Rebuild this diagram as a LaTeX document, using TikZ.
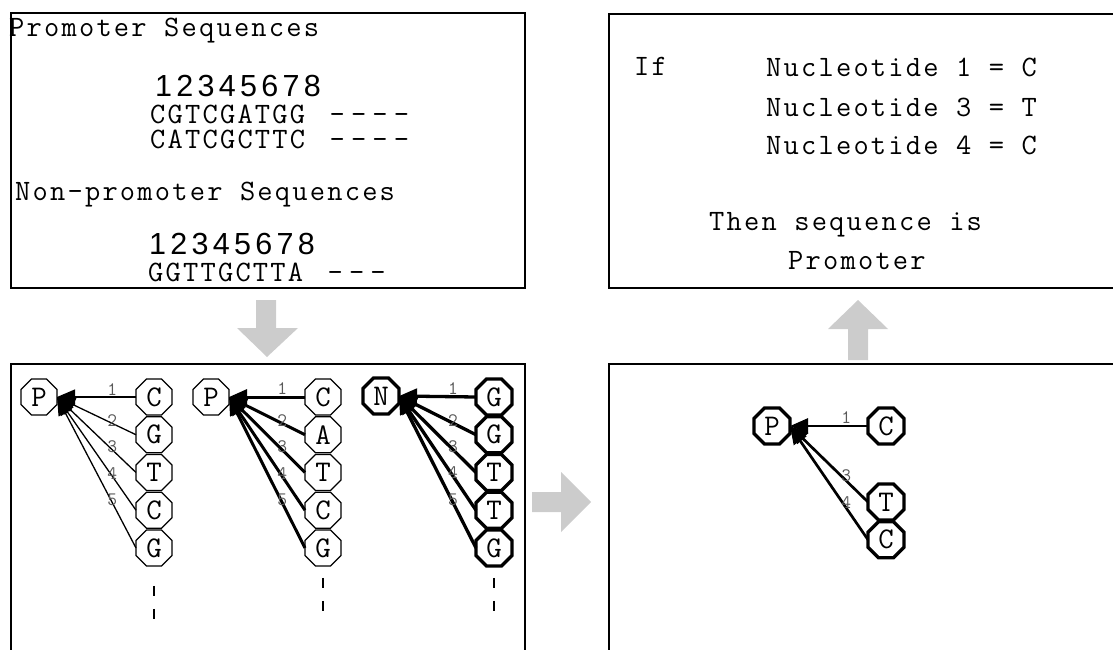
\documentclass[tikz,border=0pt]{standalone}
\usepackage{fontspec}
\setmainfont{Latin Modern Mono}[LetterSpace=7.5]
\newfontfamily\digitfont{Liberation Sans}[LetterSpace=14]
\newfontfamily\dashfont{Latin Modern Mono}[LetterSpace=21]
\usetikzlibrary{arrows.meta,positioning,shapes.geometric}

\begin{document}
\begin{tikzpicture}[
		x=1pt, y=-1pt,
		>={Triangle[length=18pt,width=15pt]},
		panel/.style={draw, line width=2pt, anchor=north west, minimum width=514pt},
		txt/.style={inner sep=0pt, anchor=base west, align=left, font=\fontsize{29.6}{25}\selectfont},
		digits/.style={inner sep=0pt, anchor=base west, font=\digitfont\fontsize{30.5}{32}\selectfont},
		dashes/.style={inner sep=0pt, anchor=base west, align=left, font=\dashfont\fontsize{29.6}{25}\selectfont},
		oct/.style={draw, regular polygon, regular polygon sides=8, minimum size=39pt, inner sep=0pt, outer sep=0pt, line width=1.3pt, font=\fontsize{30}{30}\selectfont},
		boldoct/.style={oct, line width=3.3pt},
		num/.style={font=\fontsize{19}{19}\selectfont, text=black!65, inner sep=1pt},
		link/.style={->, line width=1.3pt},
		boldlink/.style={->, line width=3pt},
		more/.style={line width=2pt, dash pattern=on 10pt off 13pt},
		flow/.style={fill=black!20, draw=none}
		]
		
		\clip (0,0) rectangle (1113,650);
		
		% Panels
		\node[panel, minimum height=275pt] (seqs) at (10,12) {};
		\node[panel, minimum width=520pt, minimum height=274pt] (rule) at (608,13) {};
		\node[panel, minimum height=300pt] (trees) at (10,363) {};
		\node[panel, minimum width=520pt, minimum height=300pt] (pruned) at (608,363) {};
		
		% Training sequences (multi-line nodes sit on their last baseline)
		\node[txt] (ptitle) at (9,37) {Promoter Sequences};
		\node[digits] (pidx) at (155,97) {12345678};
		\node[txt] (pseq) at (150,149) {CGTCGATGG\\CATCGCTTC};
		\node[dashes] (pdash) at ([xshift=24pt]pseq.base east) {----\\----};
		\node[txt] (ntitle) at (15,200) {Non-promoter Sequences};
		\node[digits] (nidx) at (149,254) {12345678};
		\node[txt] (nseq) at (148,281) {GGTTGCTTA};
		\node[dashes] (ndash) at ([xshift=24pt]nseq.base east) {---};
		
		% Extracted rule
		\node[txt] (if) at (634,76) {If};
		\node[txt] (conds) at (766,154) {Nucleotide 1 = C\\[15pt]Nucleotide 3 = T\\[13pt]Nucleotide 4 = C};
		\node[txt] (then) at (709,230) {Then sequence is};
		\node[txt] (class) at (788,269) {Promoter};
		
		% First promoter: C G T C G
		\node[oct] (p1) at (39,397) {P};
		\node[oct] (a1) at (154,397) {C};
		\node[oct, below=1.7pt of a1] (a2) {G};
		\node[oct, below=1.7pt of a2] (a3) {T};
		\node[oct, below=1.7pt of a3] (a4) {C};
		\node[oct, below=1.7pt of a4] (a5) {G};
		\draw[link] (a1.west) -- node[num, pos=.3, above] {1} (p1.east);
		\draw[link] (a2.west) -- node[num, pos=.3, yshift=3pt] {2} (p1.east);
		\draw[link] (a3.west) -- node[num, pos=.3, yshift=3pt] {3} (p1.east);
		\draw[link] (a4.west) -- node[num, pos=.3, yshift=3pt] {4} (p1.east);
		\draw[link] (a5.west) -- node[num, pos=.3, yshift=3pt] {5} (p1.east);
		\draw[more] ([yshift=-20pt]a5.south) -- ([yshift=-54pt]a5.south);
		
		% Second promoter: C A T C G
		\node[oct] (p2) at (211,397) {P};
		\node[oct] (b1) at (323,397) {C};
		\node[oct, below=1.7pt of b1] (b2) {A};
		\node[oct, below=1.7pt of b2] (b3) {T};
		\node[oct, below=1.7pt of b3] (b4) {C};
		\node[oct, below=1.7pt of b4] (b5) {G};
		\draw[boldlink] (b1.west) -- node[num, pos=.3, above] {1} (p2.east);
		\draw[boldlink] (b2.west) -- node[num, pos=.3, yshift=3pt] {2} (p2.east);
		\draw[boldlink] (b3.west) -- node[num, pos=.3, yshift=3pt] {3} (p2.east);
		\draw[boldlink] (b4.west) -- node[num, pos=.3, yshift=3pt] {4} (p2.east);
		\draw[boldlink] (b5.west) -- node[num, pos=.3, yshift=3pt] {5} (p2.east);
		\draw[more] ([yshift=-12pt]b5.south) -- ([yshift=-47pt]b5.south);
		
		% Non-promoter: G G T T G
		\node[boldoct] (n3) at (381,396) {N};
		\node[boldoct] (c1) at (494,397) {G};
		\node[boldoct, below=1.7pt of c1] (c2) {G};
		\node[boldoct, below=1.7pt of c2] (c3) {T};
		\node[boldoct, below=1.7pt of c3] (c4) {T};
		\node[boldoct, below=1.7pt of c4] (c5) {G};
		\draw[boldlink, line width=3.3pt] (c1.west) -- node[num, pos=.3, above] {1} (n3.east);
		\draw[boldlink, line width=3.3pt] (c2.west) -- node[num, pos=.3, yshift=3pt] {2} (n3.east);
		\draw[boldlink, line width=3.3pt] (c3.west) -- node[num, pos=.3, yshift=3pt] {3} (n3.east);
		\draw[boldlink, line width=3.3pt] (c4.west) -- node[num, pos=.3, yshift=3pt] {4} (n3.east);
		\draw[boldlink, line width=3.3pt] (c5.west) -- node[num, pos=.3, yshift=3pt] {5} (n3.east);
		\draw[more] ([yshift=-12pt]c5.south) -- ([yshift=-47pt]c5.south);
		
		% Pruned tree
		\node[boldoct] (p4) at (772,426) {P};
		\node[boldoct] (d1) at (886,426) {C};
		\node[boldoct] (d3) at (886,502) {T};
		\node[boldoct, below=1.7pt of d3] (d4) {C};
		\draw[boldlink, line width=2.7pt] (d1.west) -- node[num, pos=.28, above] {1} (p4.east);
		\draw[boldlink, line width=2.7pt] (d3.west) -- node[num, pos=.28, yshift=5pt] {3} (p4.east);
		\draw[boldlink, line width=2.7pt] (d4.west) -- node[num, pos=.28, yshift=5pt] {4} (p4.east);
		
		% Flow between panels
		\fill[flow] (256,300) -- (276,300) -- (276,328) -- (298,328) -- (267,357) -- (237,328) -- (256,328) -- cycle;
		\fill[flow] (532,492) -- (561,492) -- (561,472) -- (591,502) -- (561,532) -- (561,512) -- (532,512) -- cycle;
		\fill[flow] (848,360) -- (868,360) -- (868,329) -- (888,329) -- (858,300) -- (828,329) -- (848,329) -- cycle;
		
	\end{tikzpicture}
\end{document}
